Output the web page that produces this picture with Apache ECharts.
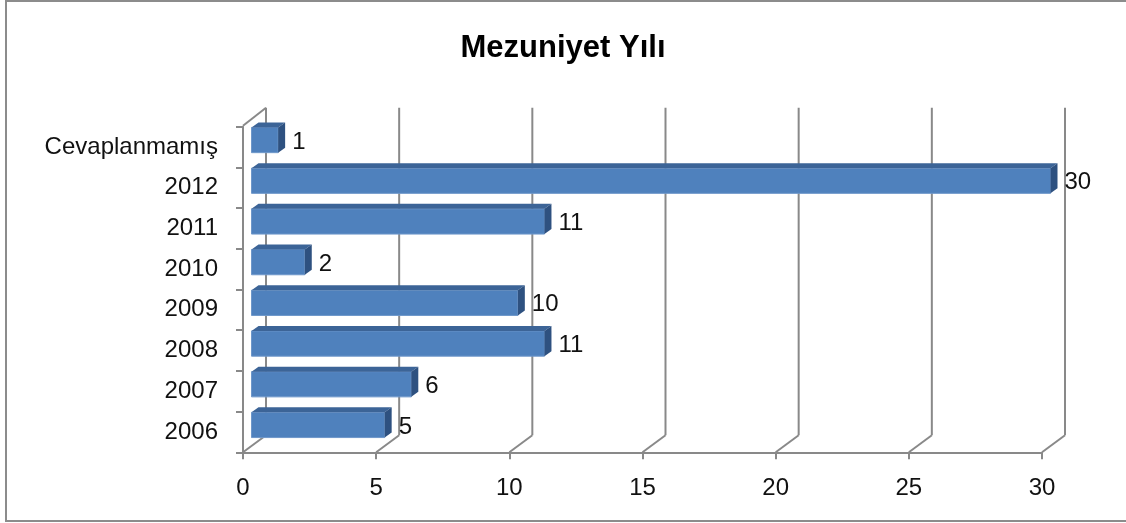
<!DOCTYPE html>
<html>
<head>
<meta charset="utf-8">
<style>
  html, body { margin: 0; padding: 0; background: #fff; }
  #chart { width: 1126px; height: 523px; }
</style>
<script src="https://cdn.jsdelivr.net/npm/echarts@6/dist/echarts.min.js"></script>
</head>
<body>
<div id="chart"></div>
<script>
// categories bottom to top, as in the picture
const categories = ['2006', '2007', '2008', '2009', '2010', '2011', '2012', 'Cevaplanmamış']
const counts = [5, 6, 11, 10, 2, 11, 30, 1]
const xTicks = [0, 5, 10, 15, 20, 25, 30]

const lineColor = '#898989'
const fontFamily = 'Liberation Sans, Arial, sans-serif'

// 3d look: back wall offset and bar depth
const wall = { dx: 23, dy: -17 }
const barShift = { dx: 8.5, dy: -7 }
const barDepth = { dx: 7, dy: -5 }

const chart = echarts.init(document.getElementById('chart'))

const renderWall = (params, api) => {
  const cs = params.coordSys
  const x = api.coord([api.value(0), 0])[0]
  const bottom = cs.y + cs.height
  const top = cs.y
  const style = { stroke: lineColor, lineWidth: 2 }
  const children = [
    // vertical gridline on back wall
    { type: 'line', shape: { x1: x + wall.dx, y1: top + wall.dy - 2, x2: x + wall.dx, y2: bottom + wall.dy }, style },
    // floor diagonal
    { type: 'line', shape: { x1: x, y1: bottom, x2: x + wall.dx, y2: bottom + wall.dy }, style },
  ]
  if (params.dataIndex === 0) {
    children.push({ type: 'line', shape: { x1: x, y1: top - 1, x2: x + wall.dx, y2: top + wall.dy - 2 }, style })
  }
  return { type: 'group', children }
}

const renderBar = (params, api) => {
  const val = api.value(0)
  const cat = api.value(1)
  const start = api.coord([0, cat])
  const end = api.coord([val, cat])
  const h = api.size([0, 1])[1] * 0.62
  const x = start[0] + barShift.dx
  const y = start[1] + barShift.dy - h / 2
  const w = end[0] - start[0]
  const dx = barDepth.dx
  const dy = barDepth.dy
  return {
    type: 'group',
    children: [
      { type: 'rect', shape: { x, y, width: w, height: h },
        style: { fill: '#4F81BD', stroke: '#6E97CA', lineWidth: 1 } },
      { type: 'polygon', shape: { points: [[x, y], [x + dx, y + dy], [x + w + dx, y + dy], [x + w, y]] },
        style: { fill: '#3C6497' } },
      { type: 'polygon', shape: { points: [[x + w, y], [x + w + dx, y + dy], [x + w + dx, y + h + dy], [x + w, y + h]] },
        style: { fill: '#2E5180' } },
      { type: 'text', style: { x: x + w + 14, y: y + h / 2 + 2, text: String(val),
        fill: '#111', font: '24px ' + fontFamily, align: 'left', verticalAlign: 'middle' } },
    ]
  }
}

const option = {
  backgroundColor: '#fff',
  animation: false,
  title: {
    text: 'Mezuniyet Yılı',
    left: 'center',
    top: 28,
    textStyle: { fontFamily, fontSize: 31, fontWeight: 'bold', color: '#000' }
  },
  graphic: [{
    type: 'rect',
    shape: { x: 6, y: 1, width: 1140, height: 520 },
    style: { fill: null, stroke: '#8c8c8c', lineWidth: 2 },
    silent: true
  }],
  grid: { left: 243, right: 84, top: 126.7, bottom: 70.7 },
  xAxis: {
    type: 'value',
    min: 0,
    max: 30,
    interval: 5,
    axisLine: { show: true, lineStyle: { color: lineColor, width: 2 } },
    axisTick: { show: true, length: 7, lineStyle: { color: lineColor, width: 2 } },
    splitLine: { show: false },
    axisLabel: { margin: 24, fontFamily, fontSize: 24, color: '#111' }
  },
  yAxis: {
    type: 'category',
    data: categories,
    axisLine: { show: true, lineStyle: { color: lineColor, width: 2 } },
    axisTick: { show: true, length: 7, lineStyle: { color: lineColor, width: 2 } },
    splitLine: { show: false },
    axisLabel: { margin: 25, fontFamily, fontSize: 24, color: '#111' }
  },
  series: [
    {
      type: 'custom',
      renderItem: renderWall,
      data: xTicks.map(v => [v]),
      encode: { x: 0 },
      z: 1,
      silent: true
    },
    {
      type: 'custom',
      renderItem: renderBar,
      data: counts.map((v, i) => [v, i]),
      encode: { x: 0, y: 1 },
      z: 3
    }
  ]
}

chart.setOption(option)
</script>
</body>
</html>
